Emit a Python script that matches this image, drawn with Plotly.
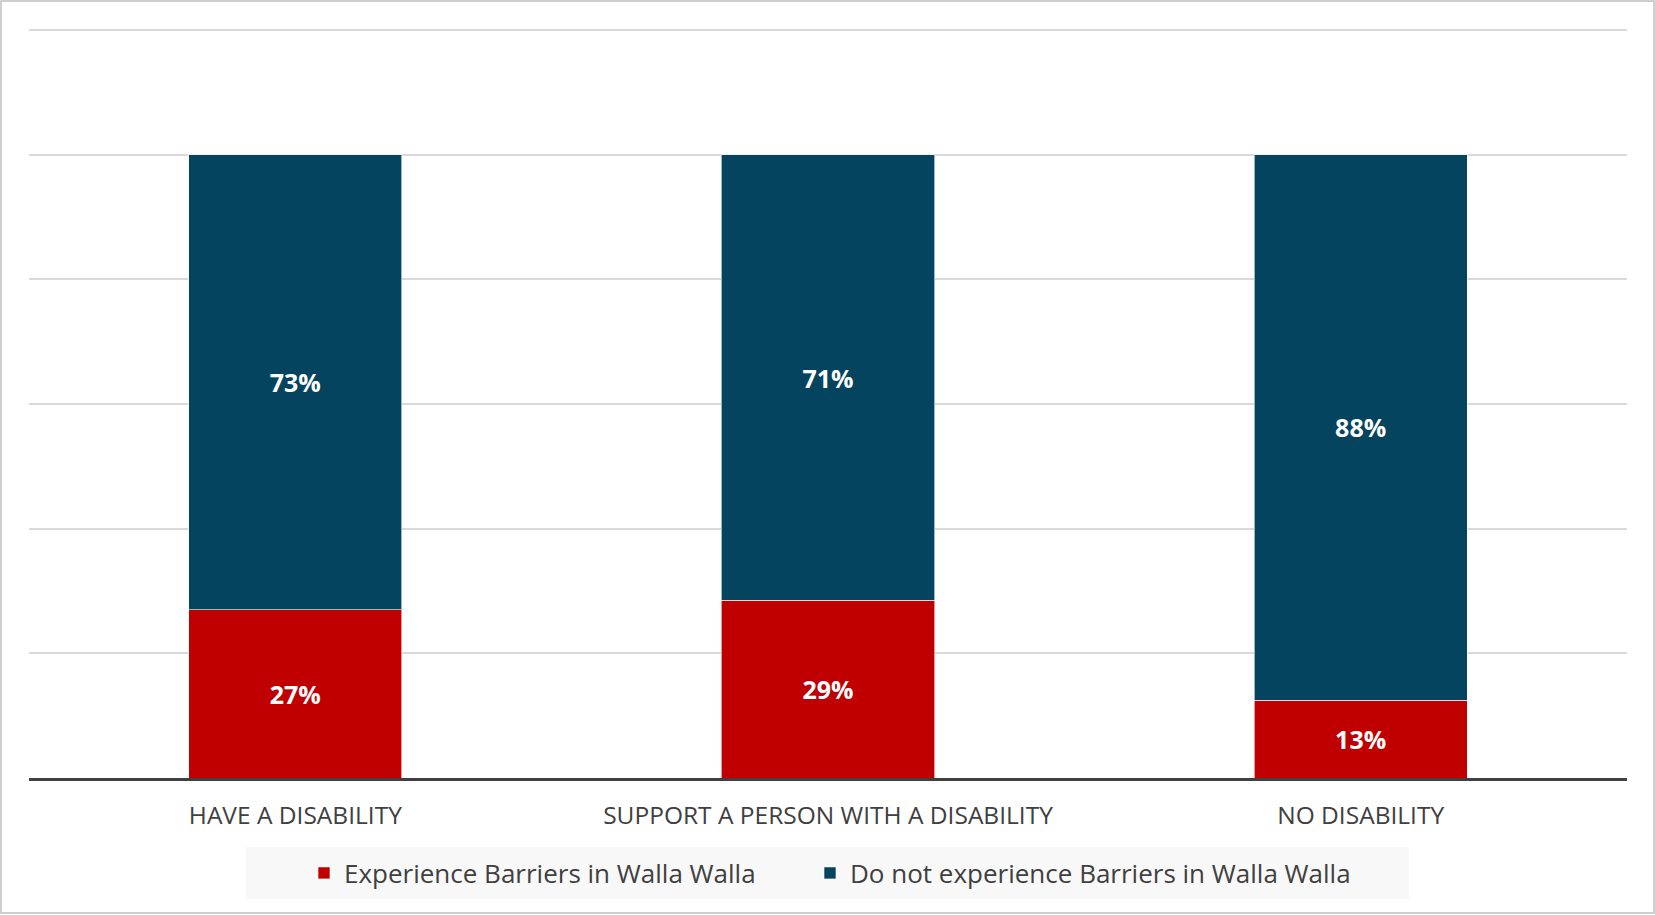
import plotly.graph_objects as go

categories = ["HAVE A DISABILITY", "SUPPORT A PERSON WITH A DISABILITY", "NO DISABILITY"]
experience = [27.0, 28.5, 12.5]
not_experience = [73.0, 71.5, 87.5]
experience_labels = ["27%", "29%", "13%"]
not_experience_labels = ["73%", "71%", "88%"]

W, H = 1655, 915
L, R, T, B = 29, 28, 24, 137
pw, ph = W - L - R, H - T - B

def px_x(x):
    return (x - L) / pw

def px_y(y):
    return (H - B - y) / ph

label_font = dict(family="Open Sans", size=25, color="white", weight="bold")

fig = go.Figure()
fig.add_trace(go.Bar(
    x=categories, y=experience, name="Experience Barriers in Walla Walla",
    marker=dict(color="#C00000", line=dict(color="rgba(255,255,255,0.6)", width=1)),
    text=experience_labels, textposition="inside", insidetextanchor="middle",
    textfont=label_font, textangle=0, legend="legend",
))
fig.add_trace(go.Bar(
    x=categories, y=not_experience, name="Do not experience Barriers in Walla Walla",
    marker=dict(color="#05445E", line=dict(color="rgba(255,255,255,0.6)", width=1)),
    text=not_experience_labels, textposition="inside", insidetextanchor="middle",
    textfont=label_font, textangle=0, legend="legend2",
))

legend_common = dict(
    orientation="h", xanchor="left", y=px_y(873), yanchor="middle",
    bgcolor="rgba(0,0,0,0)", font=dict(size=26, color="#404040"), itemwidth=30,
)

fig.update_layout(
    width=W, height=H,
    margin=dict(l=L, r=R, t=T, b=B, pad=0),
    barmode="stack", bargap=0.6,
    plot_bgcolor="white", paper_bgcolor="white",
    font=dict(family="Open Sans", color="#404040"),
    showlegend=True,
    legend=dict(x=px_x(304), **legend_common),
    legend2=dict(x=px_x(810), **legend_common),
    xaxis=dict(
        showgrid=False, showline=True, linecolor="#404040", linewidth=3,
        tickfont=dict(size=24.5, color="#404040"), ticks="", ticklabelstandoff=14,
    ),
    yaxis=dict(
        range=[0, 121], tickvals=[0, 20, 40, 60, 80, 100, 120], showticklabels=False, showgrid=True,
        gridcolor="#d9d9d9", gridwidth=1.5, zeroline=False, showline=False,
    ),
    shapes=[
        dict(type="rect", xref="paper", yref="paper", layer="below",
             x0=px_x(246), x1=px_x(1409), y0=px_y(899), y1=px_y(847),
             fillcolor="#f8f8f8", line=dict(width=0)),
        dict(type="rect", xref="paper", yref="paper", layer="above",
             x0=px_x(1), x1=px_x(1654), y0=px_y(913), y1=px_y(1),
             fillcolor="rgba(0,0,0,0)", line=dict(color="#c0c0c0", width=1.5)),
    ],
)

fig.write_html("out.html")
